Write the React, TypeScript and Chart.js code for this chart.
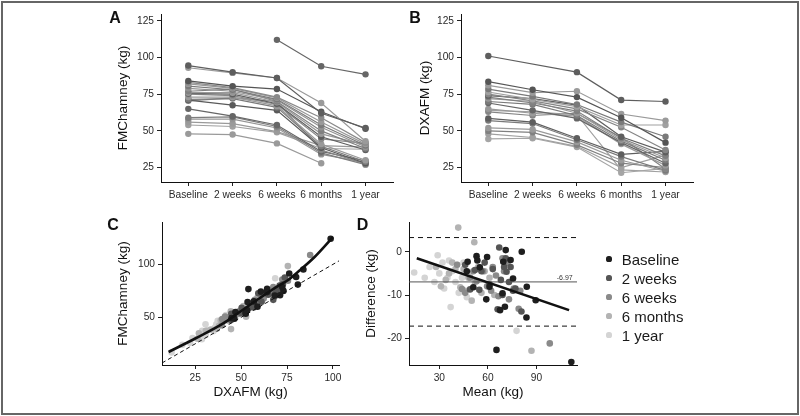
import React, { useEffect, useRef } from "react";
import { Chart, registerables } from "chart.js";
Chart.register(...registerables);

const FONT = "'Liberation Sans', Arial, Helvetica, sans-serif";
Chart.defaults.font.family = FONT;

// ---------- shared labels ----------
const timeLabels = ["Baseline", "2 weeks", "6 weeks", "6 months", "1 year"];
const abYTicks = [25, 50, 75, 100, 125];
const abXTicks = [0, 1, 2, 3, 4];

// ---------- Panel A: FMChamney per subject over time ----------
const fmChamneyBySubject: (number | null)[][] = [
  [94.5, 90, 86, 62, 52],
  [93, 89.5, 86, 69, 43],
  [null, null, 112, 94, 88.5],
  [84, 80.5, 78.5, 63, 51.5],
  [83, 79.5, 73, 59, 42],
  [82, 79, 72.5, 56, 41],
  [80.5, 78, 71.5, 54, 40],
  [79, 77, 71, 52.5, 39],
  [77, 78.5, 70, 50, 38],
  [76, 76, 69.5, 48, 40.5],
  [75.5, 75, 68.5, 46, 37],
  [75, 74, 68, 44.5, 41.5],
  [73, 73, 67, 41, 30],
  [71.5, 72, 66, 39.5, 29],
  [71, 67.5, 64, 38.5, 28],
  [70.5, 72.5, 70, 37, 27.5],
  [65, 60, 54, 36, 29.5],
  [59, 59.5, 53, 35, 27],
  [58, 58, 52, 34, 28.5],
  [56, 55, 49.5, 40, 39],
  [54, 53, 49, 38, 37.5],
  [48, 47.5, 41.5, 28, null],
];
const fmChamneyShades = [
  "#5e5e5e", "#9a9a9a", "#666666", "#555555", "#8a8a8a", "#9a9a9a", "#7a7a7a", "#939393",
  "#808080", "#9a9a9a", "#5e5e5e", "#8a8a8a", "#9a9a9a", "#7a7a7a", "#5a5a5a", "#858585",
  "#666666", "#7d7d7d", "#959595", "#9a9a9a", "#a0a0a0", "#9a9a9a",
];

// ---------- Panel B: DXAFM per subject over time ----------
const dxaFmBySubject: (number | null)[][] = [
  [101, null, 90, 71, 70],
  [83.5, 78, 73, 59, 42],
  [81, 76, 77, 61.5, 57],
  [78.5, 73.5, 68, 56, 46],
  [76.5, 71.5, 66.5, 54, 54],
  [75, 70.5, 65, 52.5, 37],
  [74, 72, 67.5, 46, 35.5],
  [73, 69, 63.5, 45, 33],
  [72, 70, 62, 44, 31.5],
  [70, 68, 60.5, 43, 30],
  [69, 64, 58.5, 42, 28],
  [65, 62, 60, 41, 26.5],
  [63, 60.5, 62, 45.5, 24],
  [58.5, 56, 45, 34, 36],
  [57, 55, 44, 32.5, 23],
  [52, 51, 42.5, 30, 22.5],
  [50, 49, 40.5, 28, 25],
  [48, 45.5, 39.5, 25, 33.5],
  [44.5, 45, 39, 21.5, 24.5],
  [64, 63, 61, 23.5, 22],
];
const dxaFmShades = [
  "#5e5e5e", "#555555", "#9a9a9a", "#7a7a7a", "#a0a0a0", "#858585", "#5e5e5e", "#808080",
  "#9a9a9a", "#7a7a7a", "#666666", "#9a9a9a", "#858585", "#5e5e5e", "#7a7a7a", "#9a9a9a",
  "#808080", "#a0a0a0", "#a5a5a5", "#a0a0a0",
];

// ---------- Panels C & D: Bland-Altman pairs (mean, DXAFM - FMChamney) ----------
const groupColors = ["#1e1e1e", "#555555", "#8a8a8a", "#b3b3b3", "#d4d4d4"];
const baselineMeanDiff: [number, number][] = [
  [47.5, -2.3], [47, -4.5], [51, -8.2], [53, -1], [53.5, -2], [55, -3.6], [59, -11], [59.5, -1.2],
  [61, -8.1], [65.3, -22.7], [67.5, -13.5], [69, -9.6], [69.5, -2.3], [70.5, -12.7], [71, 0.4],
  [74, -1.9], [75.5, -6.2], [80.9, 0], [84, -8.1], [83.8, -15.2], [89.5, -11.2], [111.5, -25.5],
];
const week2MeanDiff: [number, number][] = [
  [46, -3], [49, -8.7], [52, -4.2], [54.7, -8.8], [56, -4.5], [58, -2.5], [61, -7.5], [63, -4],
  [66, -13.3], [67, 1], [68, -6.5], [69, -10], [70, -3.5], [71, -1.5], [71.5, -4.6], [73, -7],
  [74, -3.5], [75.5, -9], [77, -8.5], [80.7, -13.8],
];
const week6MeanDiff: [number, number][] = [
  [41, -3], [44, -8.6], [46, -9.5], [49, -6], [51, -4.5], [53, -6.8], [55, -4], [57, -4.5],
  [59.5, -8], [62, -9], [63, -3.5], [65, -5.5], [66.5, -10.3], [69, -1.5], [70, -4.5], [72, -2.5],
  [73, -11], [76, -8.5], [79, -13.2], [80, -9], [98.2, -21.2],
];
const month6MeanDiff: [number, number][] = [
  [28, -3.5], [31, -8], [34, -6.5], [36, -5], [38, -2.5], [40, -4], [41.7, 5.6], [43, -8.2],
  [45, -4], [46, -9], [48, -6], [50, -11.3], [51.6, 2.2], [52, -7], [54, -3.5], [56, -9.5],
  [58, -4.5], [61, -6], [64, -10], [86.9, -22.9],
];
const year1MeanDiff: [number, number][] = [
  [14.5, -4.8], [21, -6], [24, -3.5], [27, -7], [29, -0.8], [30, -5], [32, -2.5], [33, -8.5],
  [35, -6], [36, -2], [37, -12.8], [38, -4.5], [40, -7], [41, -3], [42, -9.5], [44, -6],
  [45, -2.5], [47, -10.5], [49, -5], [77.7, -18.3],
];
const groupMeanDiff = [baselineMeanDiff, week2MeanDiff, week6MeanDiff, month6MeanDiff, year1MeanDiff];

// Panel C smooth fit
const cFitX = [10.5, 25, 40, 50, 60, 70, 75, 82, 90, 100];
const cFitY = [17.3, 30, 44, 56, 68, 79.5, 84.5, 94.5, 107, 125.8];
const cXTicks = [25, 50, 75, 100];
const cYTicks = [50, 100];

// Panel D lines
const dFitX = [16.1, 110.1];
const dFitY = [-1.5, -13.5];
const dMeanDiff = -6.97;
const dUpperLimit = 3.3;
const dLowerLimit = -17.2;
const dXTicks = [30, 60, 90];
const dYTicks = [-20, -10, 0];

// ---------- helpers ----------
type ScaleCfg = {
  min: number;
  max: number;
  ticks: number[];
  size: number;
  horizontal: boolean;
  fmt?: (v: number) => string;
  title?: string;
};

const TITLE_SIZE = 13.5;

function makeScale(cfg: ScaleCfg): any {
  return {
    type: "linear",
    min: cfg.min,
    max: cfg.max,
    afterBuildTicks: (s: any) => {
      s.ticks = cfg.ticks.map((v) => ({ value: v }));
    },
    afterFit: (s: any) => {
      if (cfg.horizontal) s.height = cfg.size;
      else s.width = cfg.size;
    },
    grid: { display: true, drawOnChartArea: false, drawTicks: true, tickLength: 4, color: "#222222", lineWidth: 1 },
    border: { display: true, color: "#111111", width: 1 },
    ticks: {
      color: "#2a2a2a",
      font: { size: 10.2, family: FONT },
      padding: 3,
      maxRotation: 0,
      minRotation: 0,
      autoSkip: false,
      callback: (v: any) => (cfg.fmt ? cfg.fmt(Number(v)) : String(v)),
    },
    title: cfg.title
      ? { display: true, text: cfg.title, color: "#111111", font: { size: TITLE_SIZE, family: FONT }, padding: 0 }
      : { display: false },
  };
}

function makeOptions(rect: { l: number; t: number; r: number; b: number }, yW: number, xH: number, x: any, y: any): any {
  return {
    responsive: false,
    animation: false,
    events: [],
    layout: {
      padding: { left: rect.l - yW, top: rect.t, right: 800 - rect.r, bottom: 416 - rect.b - xH },
    },
    plugins: { legend: { display: false }, tooltip: { enabled: false } },
    scales: { x, y },
  };
}

function subjectDatasets(values: (number | null)[][], shades: string[]) {
  return values.map((row, i) => ({
    data: row.map((v, j) => ({ x: j, y: v })),
    showLine: true,
    spanGaps: true,
    borderColor: shades[i % shades.length],
    backgroundColor: shades[i % shades.length],
    borderWidth: 1.2,
    pointRadius: 3.2,
    pointBorderWidth: 0,
  }));
}

function timelineConfig(values: (number | null)[][], shades: string[], rect: any, yW: number, title: string): any {
  return {
    type: "scatter",
    data: { datasets: subjectDatasets(values, shades) },
    options: makeOptions(
      rect,
      yW,
      30,
      makeScale({ min: -0.616, max: 4.62, ticks: abXTicks, size: 30, horizontal: true, fmt: (v) => timeLabels[v] ?? "" }),
      makeScale({ min: 15.2, max: 129.6, ticks: abYTicks, size: yW, horizontal: false, title })
    ),
  };
}

function configC(): any {
  const xMin = 6.9;
  const xMax = 103.3;
  const groups = groupMeanDiff.map((pairs, g) => ({
    data: pairs.map(([m, d]) => ({ x: m + d / 2, y: m - d / 2 })),
    backgroundColor: groupColors[g],
    borderColor: groupColors[g],
    pointRadius: 3.3,
    pointBorderWidth: 0,
  }));
  return {
    type: "scatter",
    data: {
      datasets: [
        {
          data: cFitX.map((x, i) => ({ x, y: cFitY[i] })),
          showLine: true,
          cubicInterpolationMode: "monotone",
          borderColor: "#111111",
          borderWidth: 2.6,
          pointRadius: 0,
        },
        {
          data: [
            { x: xMin, y: xMin },
            { x: xMax, y: xMax },
          ],
          showLine: true,
          borderColor: "#111111",
          borderWidth: 1,
          borderDash: [4, 3],
          pointRadius: 0,
        },
        ...groups,
      ],
    },
    options: makeOptions(
      { l: 162, t: 222, r: 339, b: 365 },
      47,
      35,
      makeScale({ min: xMin, max: xMax, ticks: cXTicks, size: 35, horizontal: true, title: "DXAFM (kg)" }),
      makeScale({ min: 5, max: 140, ticks: cYTicks, size: 47, horizontal: false, title: "FMChamney (kg)" })
    ),
  };
}

function configD(): any {
  const xMin = 11.3;
  const xMax = 115;
  const hline = (v: number, color: string, dash: number[], w: number) => ({
    data: [
      { x: xMin, y: v },
      { x: xMax, y: v },
    ],
    showLine: true,
    borderColor: color,
    borderWidth: w,
    borderDash: dash,
    pointRadius: 0,
  });
  const groups = groupMeanDiff.map((pairs, g) => ({
    data: pairs.map(([m, d]) => ({ x: m, y: d })),
    backgroundColor: groupColors[g],
    borderColor: groupColors[g],
    pointRadius: 3.3,
    pointBorderWidth: 0,
  }));
  return {
    type: "scatter",
    data: {
      datasets: [
        {
          data: dFitX.map((x, i) => ({ x, y: dFitY[i] })),
          showLine: true,
          borderColor: "#111111",
          borderWidth: 2.6,
          pointRadius: 0,
        },
        hline(dMeanDiff, "#555555", [], 1),
        hline(dUpperLimit, "#111111", [5, 4], 1),
        hline(dLowerLimit, "#111111", [5, 4], 1),
        ...groups,
      ],
    },
    options: makeOptions(
      { l: 409, t: 222, r: 577, b: 365 },
      46,
      35,
      makeScale({ min: xMin, max: xMax, ticks: dXTicks, size: 35, horizontal: true, title: "Mean (kg)" }),
      makeScale({ min: -26.2, max: 6.9, ticks: dYTicks, size: 46, horizontal: false, title: "Difference (kg)" })
    ),
  };
}

// text placed by baseline (Liberation Sans metrics)
function textTop(baseline: number, fs: number) {
  return baseline - 0.8465 * fs;
}

const canvasStyle: React.CSSProperties = { position: "absolute", left: 0, top: 0, pointerEvents: "none" };

const panelLetters = [
  { t: "A", x: 109.3, b: 23.3 },
  { t: "B", x: 409.3, b: 23.3 },
  { t: "C", x: 107.3, b: 231 },
  { t: "D", x: 356.7, b: 231 },
];

export default function App() {
  const refA = useRef<HTMLCanvasElement>(null);
  const refB = useRef<HTMLCanvasElement>(null);
  const refC = useRef<HTMLCanvasElement>(null);
  const refD = useRef<HTMLCanvasElement>(null);

  useEffect(() => {
    const charts = [
      new Chart(refA.current!, timelineConfig(fmChamneyBySubject, fmChamneyShades, { l: 161, t: 14, r: 393, b: 182 }, 46, "FMChamney (kg)")),
      new Chart(refB.current!, timelineConfig(dxaFmBySubject, dxaFmShades, { l: 461, t: 14, r: 693, b: 182 }, 44, "DXAFM (kg)")),
      new Chart(refC.current!, configC()),
      new Chart(refD.current!, configD()),
    ];
    return () => charts.forEach((c) => c.destroy());
  }, []);

  return (
    <div
      style={{
        position: "fixed",
        left: 0,
        top: 0,
        width: 800,
        height: 416,
        background: "#ffffff",
        overflow: "hidden",
        fontFamily: FONT,
      }}
    >
      <div
        style={{
          position: "absolute",
          left: 1,
          top: 1,
          width: 798,
          height: 414,
          boxSizing: "border-box",
          border: "2px solid #666666",
        }}
      />
      <canvas ref={refA} width={800} height={416} style={canvasStyle} />
      <canvas ref={refB} width={800} height={416} style={canvasStyle} />
      <canvas ref={refC} width={800} height={416} style={canvasStyle} />
      <canvas ref={refD} width={800} height={416} style={canvasStyle} />
      {panelLetters.map((p) => (
        <div
          key={p.t}
          style={{
            position: "absolute",
            left: p.x,
            top: textTop(p.b, 16),
            fontSize: 16,
            lineHeight: "16px",
            fontWeight: "bold",
            color: "#111111",
            whiteSpace: "nowrap",
          }}
        >
          {p.t}
        </div>
      ))}
      <div
        style={{
          position: "absolute",
          left: 530,
          width: 42.7,
          top: textTop(280, 7),
          fontSize: 7,
          lineHeight: "7px",
          textAlign: "right",
          color: "#333333",
          whiteSpace: "nowrap",
        }}
      >
        {dMeanDiff.toFixed(2)}
      </div>
      {timeLabels.map((label, i) => {
        const base = 264.5 + i * 19;
        return (
          <React.Fragment key={label}>
            <div
              style={{
                position: "absolute",
                left: 609 - 2.6,
                top: base - 5.5 - 2.6,
                width: 5.2,
                height: 5.2,
                borderRadius: "50%",
                background: groupColors[i],
              }}
            />
            <div
              style={{
                position: "absolute",
                left: 621.7,
                top: textTop(base, 15),
                fontSize: 15,
                lineHeight: "15px",
                color: "#1a1a1a",
                whiteSpace: "nowrap",
              }}
            >
              {label}
            </div>
          </React.Fragment>
        );
      })}
    </div>
  );
}
